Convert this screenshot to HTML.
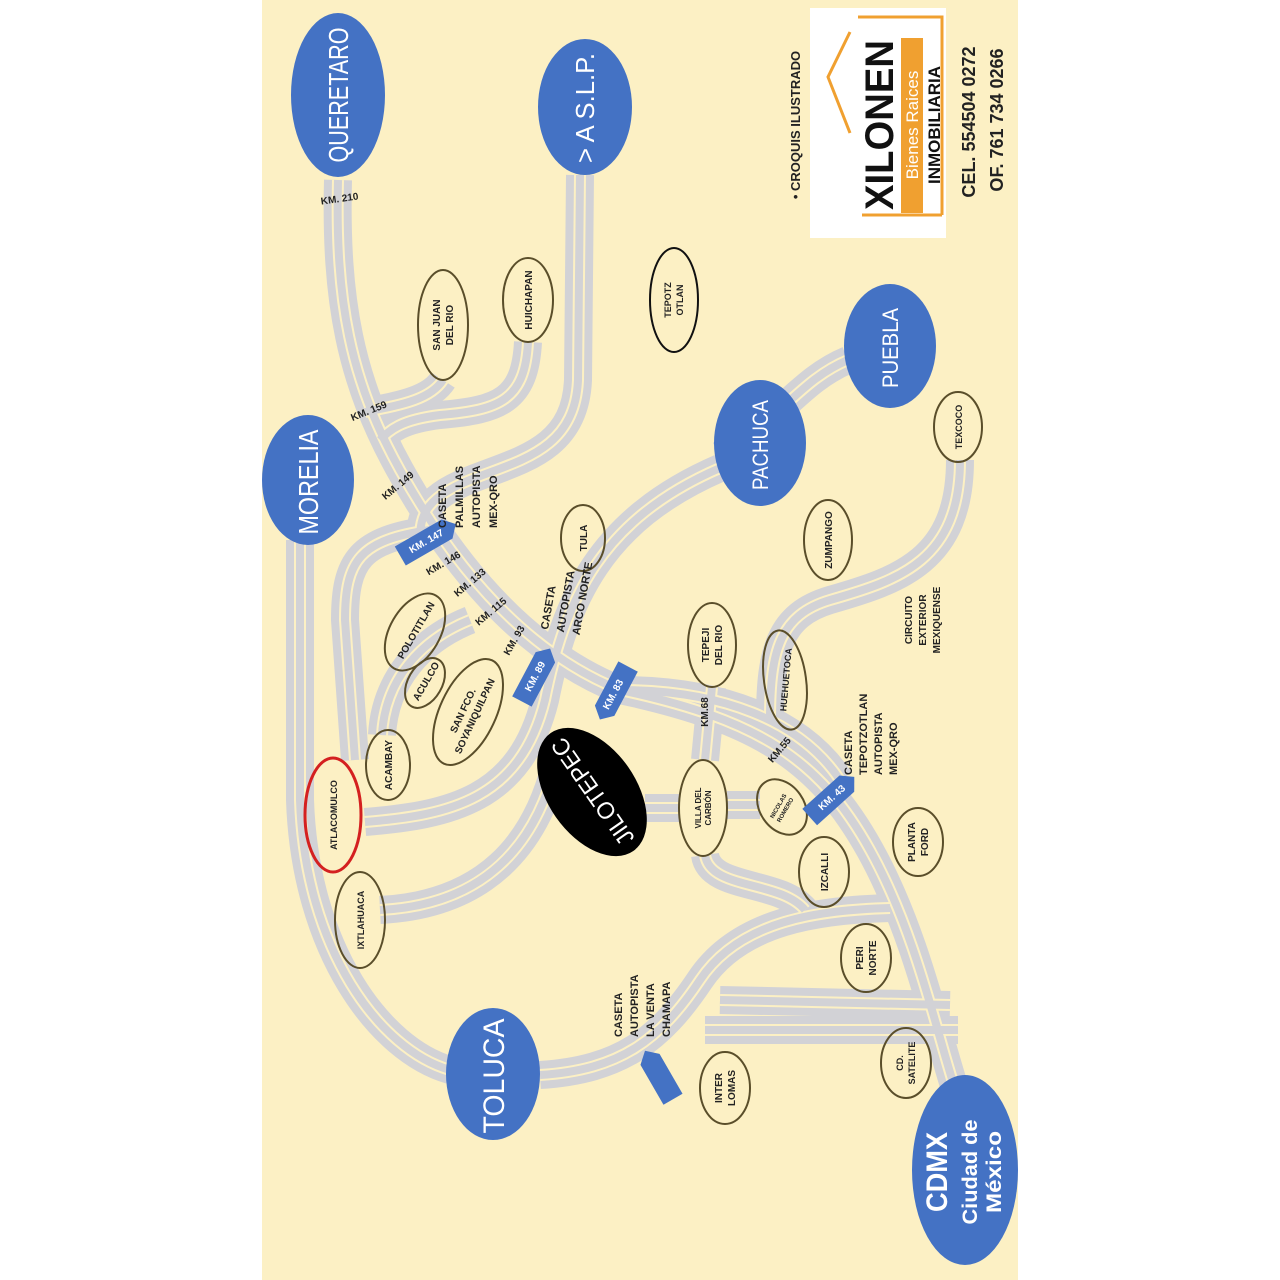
<!DOCTYPE html>
<html><head><meta charset="utf-8"><style>
html,body{margin:0;padding:0;background:#fff;}
svg{display:block;}
text{font-family:"Liberation Sans",sans-serif;}
</style></head><body>
<svg width="1280" height="1280" viewBox="0 0 1280 1280" xmlns="http://www.w3.org/2000/svg" font-weight="bold">
<rect x="0" y="0" width="1280" height="1280" fill="#ffffff"/>
<rect x="262" y="0" width="756" height="1280" fill="#fcf0c4"/>
<defs>
<g id="roads" fill="none">
<path d="M338,180 C335,300 350,380 400,470 S520,650 620,690 C760,720 820,760 870,850 S940,1050 962,1110"/>
<path d="M580,175 L578,380 C575,450 520,460 470,480 S420,520 420,545"/>
<path d="M300,540 L300,800 C305,950 380,1050 450,1070"/>
<path d="M365,822 C450,815 520,800 545,700 C565,600 600,520 720,468"/>
<path d="M430,530 C360,540 345,560 345,620 L355,760"/>
<path d="M720,455 C780,420 800,380 848,360"/>
<path d="M960,460 C960,560 900,580 830,600 C780,615 770,650 770,720"/>
<path d="M528,342 C525,400 500,410 440,415 C400,420 390,430 380,440"/>
<path d="M443,380 C430,400 400,405 365,412"/>
<path d="M560,745 C540,850 480,905 380,910"/>
<path d="M645,808 L680,808 M727,805 L760,805"/>
<path d="M705,855 C710,890 780,880 805,910"/>
<path d="M540,1075 C620,1070 660,1040 700,980 C740,920 820,910 890,908"/>
<path d="M720,1000 L950,1005 M705,1030 L958,1030"/>
<path d="M712,687 L705,760"/>
<path d="M470,620 C420,640 385,680 382,735"/>
<path d="M620,690 C720,690 800,720 840,780"/>
</g>
</defs>
<use href="#roads" stroke="#d2d2d6" stroke-width="28"/>
<use href="#roads" stroke="#fcf0c4" stroke-width="12"/>
<use href="#roads" stroke="#d2d2d6" stroke-width="8"/>

<g fill="#4472c4">
<ellipse cx="338" cy="95" rx="47" ry="82"/>
<ellipse cx="585" cy="107" rx="47" ry="68"/>
<ellipse cx="308" cy="480" rx="46" ry="65"/>
<ellipse cx="890" cy="346" rx="46" ry="62"/>
<ellipse cx="760" cy="443" rx="46" ry="63"/>
<ellipse cx="493" cy="1074" rx="47" ry="66"/>
<ellipse cx="965" cy="1170" rx="53" ry="95"/>
</g>
<g fill="#fff" text-anchor="middle" font-weight="normal">
<text transform="translate(348,95) rotate(-90)" font-size="28" textLength="135" lengthAdjust="spacingAndGlyphs">QUERETARO</text>
<text transform="translate(594,108) rotate(-90)" font-size="26" textLength="110" lengthAdjust="spacingAndGlyphs">&gt; A S.L.P.</text>
<text transform="translate(318,482) rotate(-90)" font-size="28" textLength="105" lengthAdjust="spacingAndGlyphs">MORELIA</text>
<text transform="translate(898,348) rotate(-90)" font-size="22" textLength="80" lengthAdjust="spacingAndGlyphs">PUEBLA</text>
<text transform="translate(768,445) rotate(-90)" font-size="22" textLength="90" lengthAdjust="spacingAndGlyphs">PACHUCA</text>
<text transform="translate(504,1076) rotate(-90)" font-size="30" textLength="115" lengthAdjust="spacingAndGlyphs">TOLUCA</text>
<text transform="translate(947,1172) rotate(-90)" font-size="30" font-weight="bold" textLength="80" lengthAdjust="spacingAndGlyphs">CDMX</text>
<text transform="translate(977,1172) rotate(-90)" font-size="21" font-weight="bold" textLength="105" lengthAdjust="spacingAndGlyphs">Ciudad de</text>
<text transform="translate(1001,1172) rotate(-90)" font-size="21" font-weight="bold" textLength="82" lengthAdjust="spacingAndGlyphs">México</text>
</g>

<ellipse cx="592" cy="792" rx="44" ry="72" transform="rotate(-35 592 792)" fill="#000"/>
<text transform="translate(592,792) rotate(-125)" text-anchor="middle" dy="9" font-size="24" fill="#fff" font-weight="normal" textLength="125" lengthAdjust="spacingAndGlyphs">JILOTEPEC</text>

<g fill="none" stroke="#5a4e2a" stroke-width="2">
<ellipse cx="443" cy="325" rx="25" ry="55"/>
<ellipse cx="528" cy="300" rx="25" ry="42"/>
<ellipse cx="674" cy="300" rx="24" ry="52" stroke="#111"/>
<ellipse cx="958" cy="427" rx="24" ry="35"/>
<ellipse cx="828" cy="540" rx="24" ry="40"/>
<ellipse cx="583" cy="538" rx="22" ry="33"/>
<ellipse cx="415" cy="632" rx="25" ry="42" transform="rotate(30 415 632)"/>
<ellipse cx="425" cy="683" rx="17" ry="27" transform="rotate(30 425 683)"/>
<ellipse cx="468" cy="712" rx="28" ry="57" transform="rotate(25 468 712)"/>
<ellipse cx="388" cy="765" rx="22" ry="35"/>
<ellipse cx="360" cy="920" rx="25" ry="48"/>
<ellipse cx="712" cy="645" rx="24" ry="42"/>
<ellipse cx="785" cy="680" rx="21" ry="50" transform="rotate(-8 785 680)"/>
<ellipse cx="703" cy="808" rx="24" ry="48"/>
<ellipse cx="782" cy="807" rx="22" ry="30" transform="rotate(-35 782 807)"/>
<ellipse cx="824" cy="872" rx="25" ry="35"/>
<ellipse cx="918" cy="842" rx="25" ry="34"/>
<ellipse cx="866" cy="958" rx="25" ry="34"/>
<ellipse cx="906" cy="1063" rx="25" ry="35"/>
<ellipse cx="725" cy="1088" rx="25" ry="36"/>
</g>
<ellipse cx="333" cy="815" rx="28" ry="57" fill="none" stroke="#d42020" stroke-width="3"/>

<g fill="#222" text-anchor="middle" font-size="10">
<text transform="translate(440,325) rotate(-90)">SAN JUAN<tspan x="0" dy="13">DEL RIO</tspan></text>
<text transform="translate(532,300) rotate(-90)">HUICHAPAN</text>
<text transform="translate(671,300) rotate(-90)" font-size="9">TEPOTZ<tspan x="0" dy="12">OTLAN</tspan></text>
<text transform="translate(962,427) rotate(-90)" font-size="9">TEXCOCO</text>
<text transform="translate(832,540) rotate(-90)">ZUMPANGO</text>
<text transform="translate(587,538) rotate(-90)">TULA</text>
<text transform="translate(419,632) rotate(-60)">POLOTITLAN</text>
<text transform="translate(429,683) rotate(-60)">ACULCO</text>
<text transform="translate(466,712) rotate(-65)">SAN FCO.<tspan x="0" dy="13">SOYANIQUILPAN</tspan></text>
<text transform="translate(392,765) rotate(-90)">ACAMBAY</text>
<text transform="translate(337,815) rotate(-90)" font-size="9">ATLACOMULCO</text>
<text transform="translate(364,920) rotate(-90)" font-size="9">IXTLAHUACA</text>
<text transform="translate(709,645) rotate(-90)">TEPEJI<tspan x="0" dy="13">DEL RIO</tspan></text>
<text transform="translate(789,680) rotate(-85)" font-size="9">HUEHUETOCA</text>
<text transform="translate(701,808) rotate(-90)" font-size="8">VILLA DEL<tspan x="0" dy="10">CARBÓN</tspan></text>
<text transform="translate(780,807) rotate(-60)" font-size="6">NICOLAS<tspan x="0" dy="8">ROMERO</tspan></text>
<text transform="translate(828,872) rotate(-90)">IZCALLI</text>
<text transform="translate(915,842) rotate(-90)">PLANTA<tspan x="0" dy="13">FORD</tspan></text>
<text transform="translate(863,958) rotate(-90)">PERI<tspan x="0" dy="13">NORTE</tspan></text>
<text transform="translate(903,1063) rotate(-90)" font-size="9">CD.<tspan x="0" dy="12">SATELITE</tspan></text>
<text transform="translate(722,1088) rotate(-90)">INTER<tspan x="0" dy="13">LOMAS</tspan></text>
</g>

<g fill="#4472c4">
<polygon points="-32,-11 22,-11 32,0 22,11 -32,11" transform="translate(428,540) rotate(-30)"/>
<polygon points="-30,-11 20,-11 30,0 20,11 -30,11" transform="translate(536,675) rotate(-62)"/>
<polygon points="-30,-11 20,-11 30,0 20,11 -30,11" transform="translate(614,693) rotate(118)"/>
<polygon points="-30,-11 20,-11 30,0 20,11 -30,11" transform="translate(832,797) rotate(-42)"/>
<polygon points="-28,-11 18,-11 28,0 18,11 -28,11" transform="translate(659,1075) rotate(-120)"/>
</g>
<g fill="#fff" text-anchor="middle" font-size="10">
<text transform="translate(428,544) rotate(-30)">KM. 147</text>
<text transform="translate(538,678) rotate(-62)">KM. 89</text>
<text transform="translate(616,696) rotate(-62)">KM. 83</text>
<text transform="translate(834,800) rotate(-42)">KM. 43</text>
</g>

<g fill="#222" text-anchor="middle" font-size="10">
<text transform="translate(340,202) rotate(-8)">KM. 210</text>
<text transform="translate(370,414) rotate(-22)">KM. 159</text>
<text transform="translate(400,488) rotate(-40)">KM. 149</text>
<text transform="translate(445,566) rotate(-30)">KM. 146</text>
<text transform="translate(472,585) rotate(-40)">KM. 133</text>
<text transform="translate(493,614) rotate(-40)">KM. 115</text>
<text transform="translate(517,642) rotate(-60)">KM. 93</text>
<text transform="translate(708,712) rotate(-90)">KM.68</text>
<text transform="translate(782,752) rotate(-50)">KM.55</text>
<g text-anchor="start">
<text transform="translate(446,528) rotate(-90)" font-size="11">CASETA<tspan x="0" dy="17">PALMILLAS</tspan><tspan x="0" dy="17">AUTOPISTA</tspan><tspan x="0" dy="17">MEX-QRO</tspan></text>
<text transform="translate(548,630) rotate(-80)" font-size="11">CASETA<tspan x="0" dy="16">AUTOPISTA</tspan><tspan x="0" dy="16">ARCO NORTE</tspan></text>
<text transform="translate(852,775) rotate(-90)" font-size="11">CASETA<tspan x="0" dy="15">TEPOTZOTLAN</tspan><tspan x="0" dy="15">AUTOPISTA</tspan><tspan x="0" dy="15">MEX-QRO</tspan></text>
<text transform="translate(622,1037) rotate(-90)" font-size="11">CASETA<tspan x="0" dy="16">AUTOPISTA</tspan><tspan x="0" dy="16">LA VENTA</tspan><tspan x="0" dy="16">CHAMAPA</tspan></text>
</g>
<text transform="translate(912,620) rotate(-90)">CIRCUITO<tspan x="0" dy="14">EXTERIOR</tspan><tspan x="0" dy="14">MEXIQUENSE</tspan></text>
<text transform="translate(800,125) rotate(-90)" font-size="13">• CROQUIS  ILUSTRADO</text>
</g>

<rect x="810" y="8" width="136" height="230" fill="#fff"/>
<polyline points="942,215 942,17 858,17" fill="none" stroke="#f0a030" stroke-width="3"/>
<polyline points="942,215 862,215" fill="none" stroke="#f0a030" stroke-width="3"/>
<polyline points="850,32 828,77 850,133" fill="none" stroke="#f0a030" stroke-width="3"/>
<rect x="901" y="38" width="22" height="175" fill="#f0a030"/>
<text transform="translate(893,125) rotate(-90)" text-anchor="middle" font-size="40" fill="#111" textLength="170" lengthAdjust="spacingAndGlyphs">XILONEN</text>
<text transform="translate(918,125) rotate(-90)" text-anchor="middle" font-size="17" fill="#fff" font-weight="normal">Bienes Raices</text>
<text transform="translate(940,125) rotate(-90)" text-anchor="middle" font-size="17" fill="#111">INMOBILIARIA</text>
<text transform="translate(975,122) rotate(-90)" text-anchor="middle" font-size="18" fill="#222">CEL. 554504 0272</text>
<text transform="translate(1003,120) rotate(-90)" text-anchor="middle" font-size="18" fill="#222">OF. 761 734 0266</text>
</svg>
</body></html>
